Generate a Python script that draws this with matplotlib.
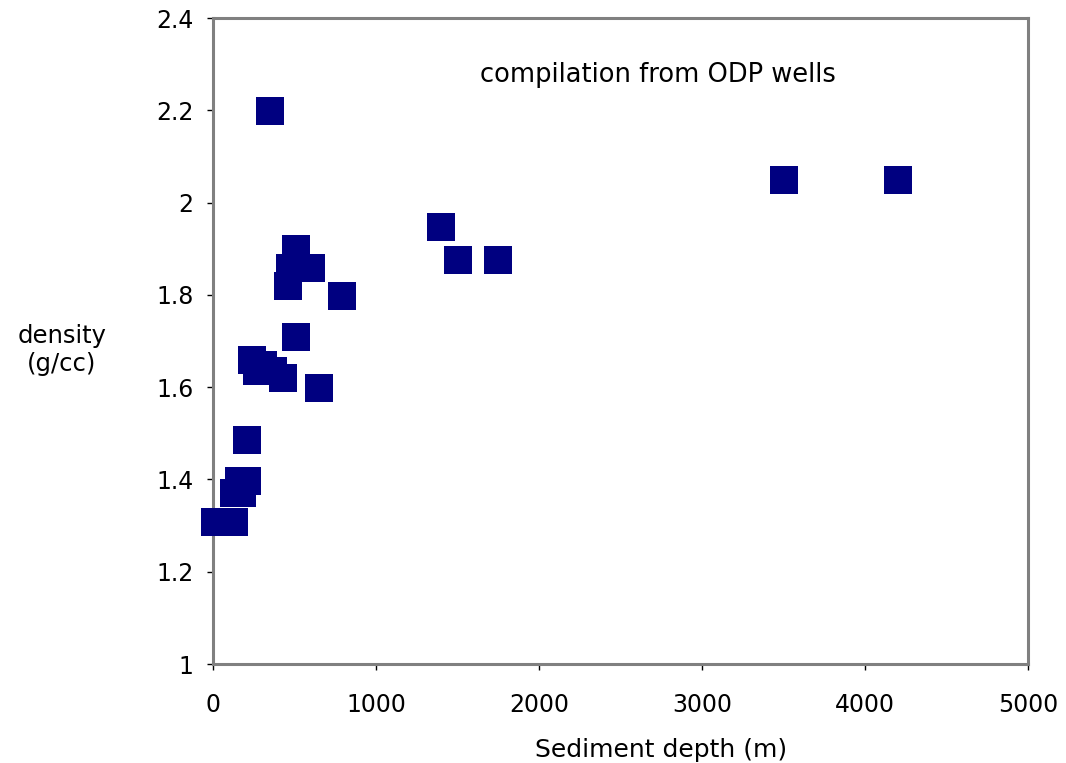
import matplotlib.pyplot as plt
from matplotlib.ticker import FuncFormatter

# Sediment depth (m) and density (g/cc)
depth = [10, 130, 130, 179, 161, 210, 210, 241, 271, 304, 371, 430, 651,
         510, 461, 473, 604, 510, 791, 350, 1400, 1500, 1750, 3500, 4200]
density = [1.307, 1.307, 1.370, 1.370, 1.396, 1.396, 1.485, 1.659, 1.635,
           1.648, 1.635, 1.620, 1.598, 1.709, 1.820, 1.859, 1.859, 1.899,
           1.798, 2.198, 1.948, 1.876, 1.876, 2.048, 2.048]

x_ticks = [0, 1000, 2000, 3000, 4000, 5000]
y_ticks = [1, 1.2, 1.4, 1.6, 1.8, 2, 2.2, 2.4]

fig = plt.figure(figsize=(10.66, 7.63), dpi=100)
ax = fig.add_axes([213 / 1066, 1 - 664 / 763, 815 / 1066, 646 / 763])

# Square markers, navy like the original spreadsheet chart
ax.plot(depth, density, linestyle="none", marker="s", markersize=20.7,
        color="#000080", markeredgewidth=0, clip_on=False, zorder=3)

ax.set_xlim(0, 5000)
ax.set_ylim(1, 2.4)
ax.set_xticks(x_ticks)
ax.set_yticks(y_ticks)
ax.yaxis.set_major_formatter(FuncFormatter(lambda v, p: f"{v:g}"))

for side in ["left", "bottom", "top", "right"]:
    ax.spines[side].set_color("#808080")
    ax.spines[side].set_linewidth(2.2)

ax.tick_params(axis="both", direction="out", length=4, width=1,
               colors="black", labelsize=17)
ax.tick_params(axis="x", pad=17)
ax.tick_params(axis="y", pad=10)

ax.text(0.546, 0.912, "compilation from ODP wells", transform=ax.transAxes,
        ha="center", va="center", fontsize=18.5)

fig.text(661 / 1066, 1 - 750 / 763, "Sediment depth (m)", ha="center",
         va="center", fontsize=18)
fig.text(62 / 1066, 1 - 350 / 763, "density\n(g/cc)", ha="center",
         va="center", fontsize=17.5, linespacing=1.2)

plt.savefig("out.png", dpi=100)
